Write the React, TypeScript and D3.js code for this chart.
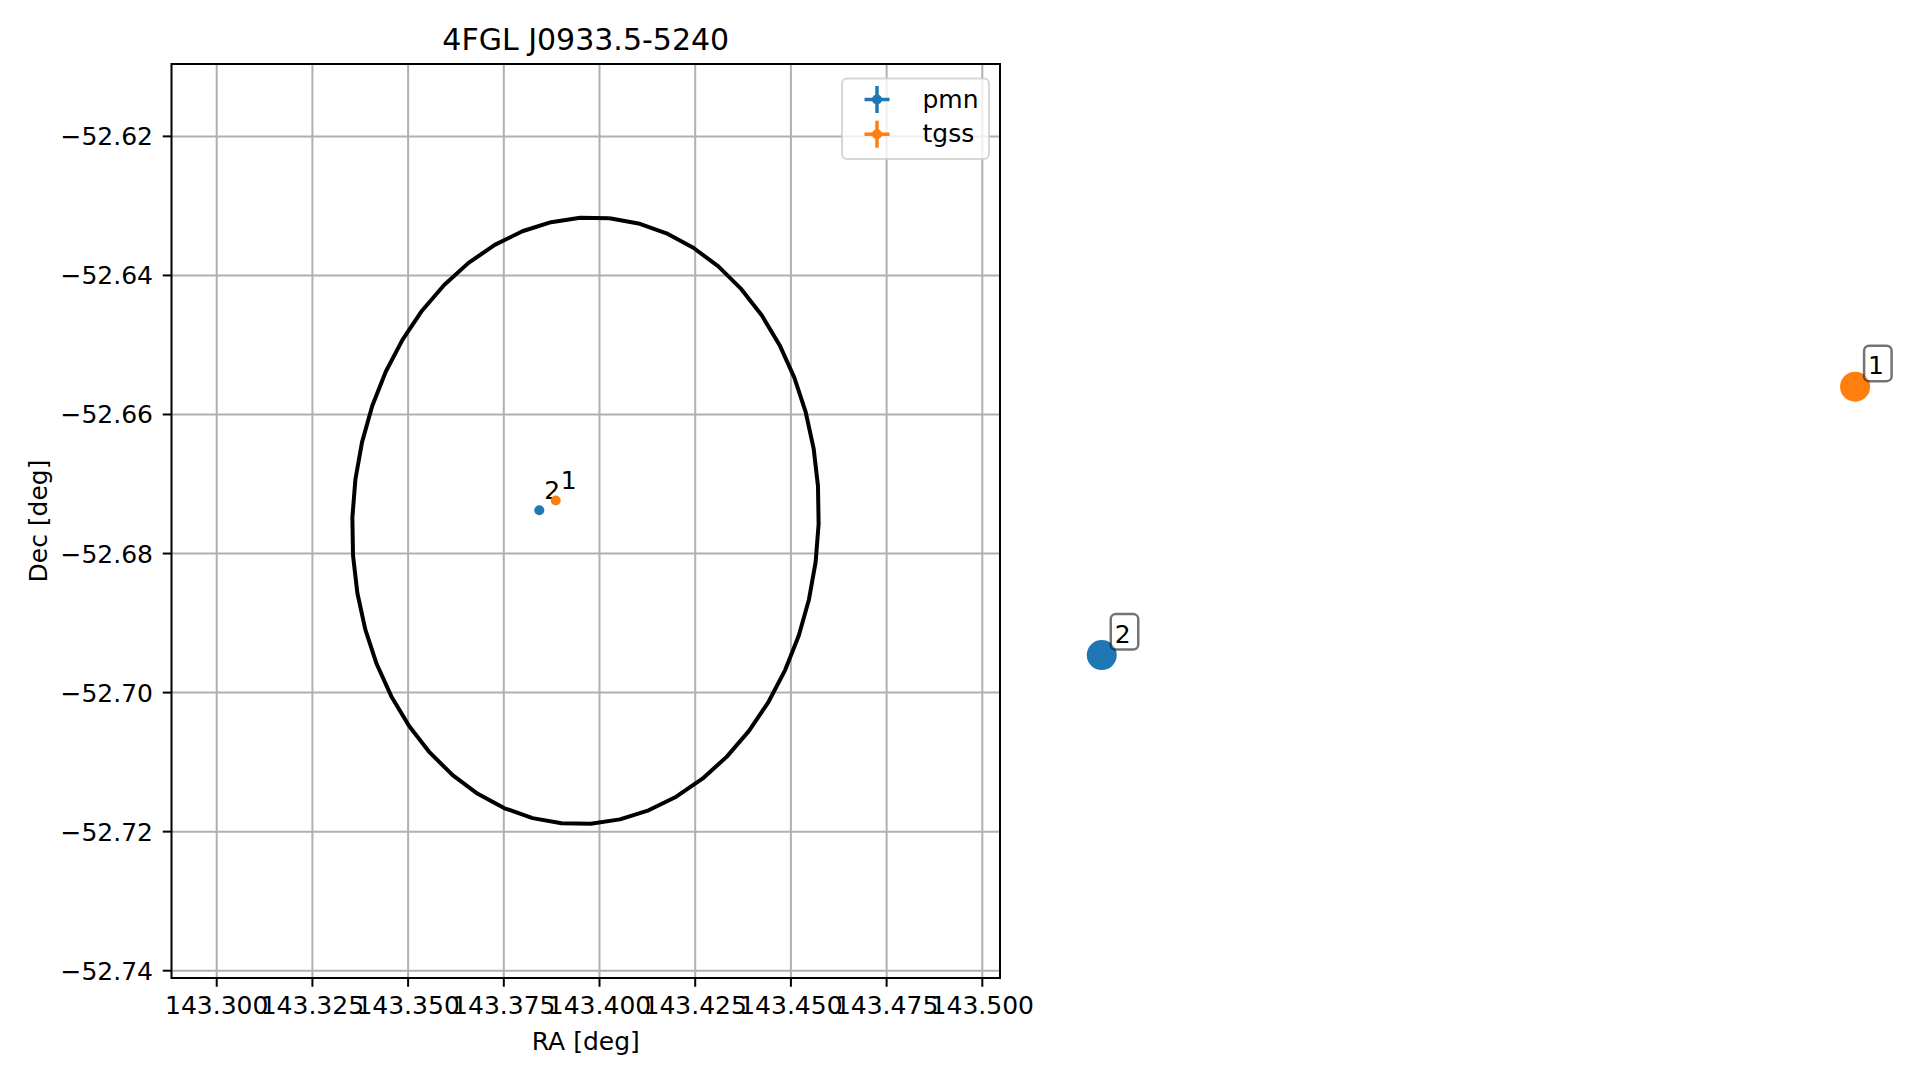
import React from "react";
import * as d3 from "d3";

// Axis ticks and visible data window (degrees)
const raTicks = [143.3, 143.325, 143.35, 143.375, 143.4, 143.425, 143.45, 143.475, 143.5];
const decTicks = [-52.62, -52.64, -52.66, -52.68, -52.7, -52.72, -52.74];
const raDomain = [143.28819, 143.50462];
const decDomain = [-52.74105, -52.60959];

// Counterpart catalogues
const catalogNames = ["pmn", "tgss"];
const catalogColors = ["#1f77b4", "#ff7f0e"];
const sourceIds = ["2", "1"];
const sourceRa = [143.38427, 143.38856];
const sourceDec = [-52.67377, -52.67236];

// Highlight markers drawn beside the panel (unclipped)
const highlightRa = [143.5312, 143.728];
const highlightDec = [-52.6946, -52.656];

// 95% confidence ellipse of the gamma-ray source
const ellipseRa = 143.39634;
const ellipseDec = -52.67529;
const ellipseSemiMajor = 0.04368;
const ellipseSemiMinor = 0.0369;
const ellipsePosAngle = 5;
const ellipseVertices = 50;

const W = 1919;
const H = 1080;
const plot = { left: 171.5, right: 1000, top: 64, bottom: 978 };
const FONT = "'DejaVu Sans', sans-serif";

export default function App() {
  const x = d3.scaleLinear().domain(raDomain).range([plot.left, plot.right]);
  const y = d3.scaleLinear().domain(decDomain).range([plot.bottom, plot.top]);

  // Ellipse outline sampled as a polygon on the sky
  const pa = (ellipsePosAngle * Math.PI) / 180;
  const cosDec = Math.cos((ellipseDec * Math.PI) / 180);
  const ellipsePts: [number, number][] = d3.range(ellipseVertices + 1).map((i) => {
    const t = (2 * Math.PI * i) / ellipseVertices;
    const east = ellipseSemiMajor * Math.cos(t) * Math.sin(pa) + ellipseSemiMinor * Math.sin(t) * Math.cos(pa);
    const north = ellipseSemiMajor * Math.cos(t) * Math.cos(pa) - ellipseSemiMinor * Math.sin(t) * Math.sin(pa);
    return [ellipseRa + east / cosDec, ellipseDec + north];
  });
  const ellipsePath = d3
    .line<[number, number]>()
    .x((d) => x(d[0]))
    .y((d) => y(d[1]))(ellipsePts);

  const fmtRa = d3.format(".3f");
  const fmtDec = (v: number) => d3.format(".2f")(v).replace("-", "\u2212");

  const legendX = 842;
  const legendY = 78.5;

  return (
    <svg
      width={W}
      height={H}
      style={{ position: "absolute", left: 0, top: 0, background: "#fff" }}
      fontFamily={FONT}
    >
      <rect x={0} y={0} width={W} height={H} fill="#fff" />
      <text x={(plot.left + plot.right) / 2} y={50} fontSize={30} textAnchor="middle" fill="#000">
        4FGL J0933.5-5240
      </text>

      {/* grid */}
      <g stroke="#b0b0b0" strokeWidth={2}>
        {raTicks.map((t) => (
          <line key={"gx" + t} x1={x(t)} x2={x(t)} y1={plot.top} y2={plot.bottom} />
        ))}
        {decTicks.map((t) => (
          <line key={"gy" + t} x1={plot.left} x2={plot.right} y1={y(t)} y2={y(t)} />
        ))}
      </g>

      {/* error ellipse */}
      <path d={ellipsePath || ""} fill="none" stroke="#000" strokeWidth={4} strokeLinejoin="round" />

      {/* counterpart labels and positions */}
      {sourceIds.map((id, i) => (
        <text key={"lab" + id} x={x(sourceRa[i]) + 5} y={y(sourceDec[i]) - 11} fontSize={25} fill="#000">
          {id}
        </text>
      ))}
      {catalogNames.map((n, i) => (
        <circle key={"pt" + n} cx={x(sourceRa[i])} cy={y(sourceDec[i])} r={5} fill={catalogColors[i]} />
      ))}

      {/* spines */}
      <rect
        x={plot.left}
        y={plot.top}
        width={plot.right - plot.left}
        height={plot.bottom - plot.top}
        fill="none"
        stroke="#000"
        strokeWidth={2}
      />

      {/* x axis */}
      <g>
        {raTicks.map((t) => (
          <g key={"tx" + t}>
            <line x1={x(t)} x2={x(t)} y1={plot.bottom} y2={plot.bottom + 8.75} stroke="#000" strokeWidth={2} />
            <text x={x(t)} y={1014} fontSize={25} textAnchor="middle" fill="#000">
              {fmtRa(t)}
            </text>
          </g>
        ))}
        <text x={(plot.left + plot.right) / 2} y={1050} fontSize={25} textAnchor="middle" fill="#000">
          RA [deg]
        </text>
      </g>

      {/* y axis */}
      <g>
        {decTicks.map((t) => (
          <g key={"ty" + t}>
            <line x1={plot.left - 8.75} x2={plot.left} y1={y(t)} y2={y(t)} stroke="#000" strokeWidth={2} />
            <text x={153} y={y(t) + 9} fontSize={25} textAnchor="end" fill="#000">
              {fmtDec(t)}
            </text>
          </g>
        ))}
        <text
          transform={`translate(47,${(plot.top + plot.bottom) / 2}) rotate(-90)`}
          fontSize={25}
          textAnchor="middle"
          fill="#000"
        >
          Dec [deg]
        </text>
      </g>

      {/* legend */}
      <g>
        <rect
          x={legendX}
          y={legendY}
          width={147}
          height={80.5}
          rx={5}
          fill="#fff"
          fillOpacity={0.8}
          stroke="#cccccc"
          strokeOpacity={0.8}
          strokeWidth={2}
        />
        {catalogNames.map((n, i) => {
          const cy = legendY + 21 + i * 34.7;
          const cx = legendX + 35;
          return (
            <g key={"lg" + n}>
              <line x1={cx - 12.5} x2={cx + 12.5} y1={cy} y2={cy} stroke={catalogColors[i]} strokeWidth={3.5} />
              <line x1={cx} x2={cx} y1={cy - 13.5} y2={cy + 13.5} stroke={catalogColors[i]} strokeWidth={3.5} />
              <circle cx={cx} cy={cy} r={5} fill={catalogColors[i]} />
              <text x={legendX + 80.5} y={cy + 8} fontSize={25} fill="#000">
                {n}
              </text>
            </g>
          );
        })}
      </g>

      {/* highlighted counterparts with boxed ids */}
      {sourceIds.map((id, i) => {
        const cx = x(highlightRa[i]);
        const cy = y(highlightDec[i]);
        const tx = cx + 12.5;
        const ty = cy - 12.5;
        return (
          <g key={"hl" + id}>
            <circle cx={cx} cy={cy} r={15} fill={catalogColors[i]} />
            <rect
              x={tx - 3.5}
              y={ty - 28.5}
              width={27.5}
              height={35.5}
              rx={5}
              fill="#fff"
              fillOpacity={0.5}
              stroke="#000"
              strokeOpacity={0.55}
              strokeWidth={2.5}
            />
            <text x={tx + 0.5} y={ty} fontSize={25} fill="#000">
              {id}
            </text>
          </g>
        );
      })}
    </svg>
  );
}
